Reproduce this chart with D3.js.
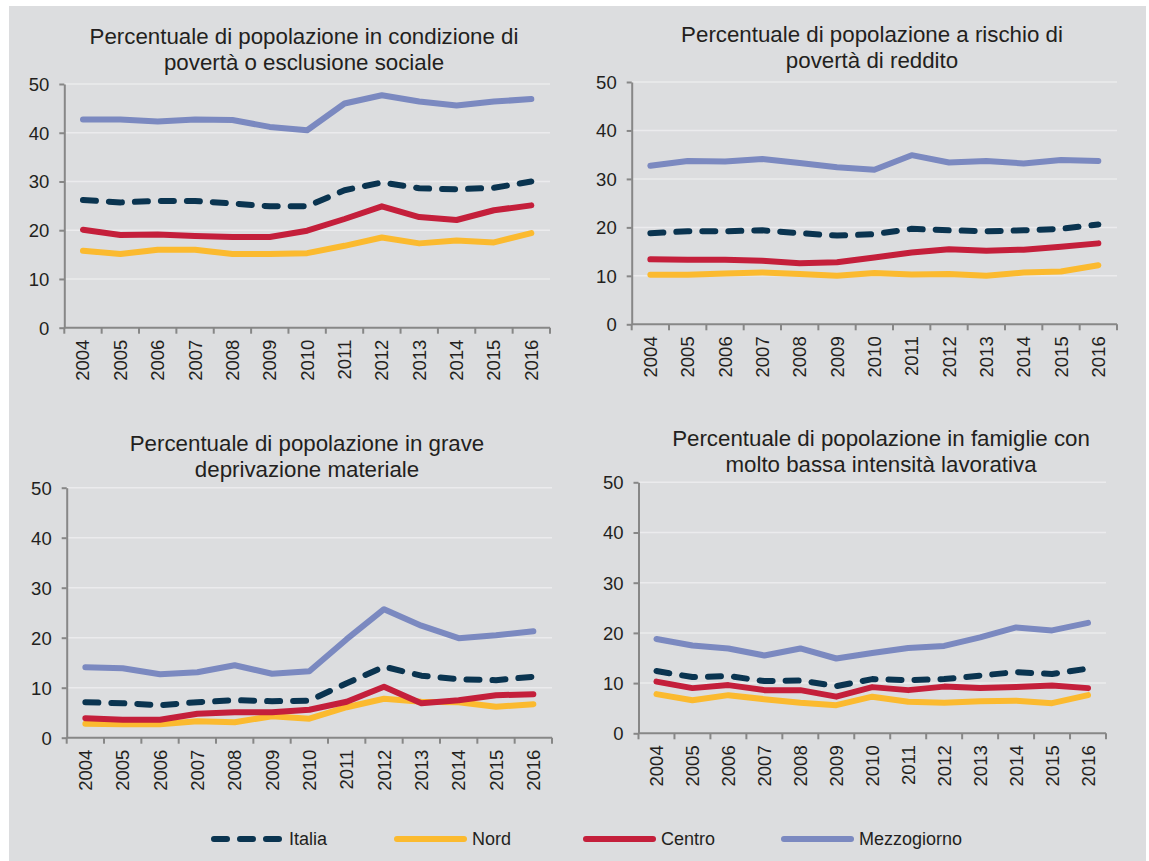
<!DOCTYPE html>
<html>
<head>
    <meta charset="utf-8">
    <title>Povertà ed esclusione sociale</title>
    <script src="https://d3js.org/d3.v7.min.js"></script>
    <style>
        body { margin: 0; background: #fff; }
        svg text { font-family: "Liberation Sans", Arial, sans-serif; fill: #231f20; }
        .grid line { stroke: #ebebed; stroke-width: 1.5px; }
        .axis path, .axis line { stroke: #878787; stroke-width: 2px; }
        .axis text { font-size: 18.5px; }
        .title { font-size: 22.3px; }
        .legend text { font-size: 18px; }
    </style>
</head>
<body>
<div id="chart"></div>
<script>
    // years and series names
    const years = ["2004","2005","2006","2007","2008","2009","2010","2011","2012","2013","2014","2015","2016"];
    const seriesNames = ["Italia", "Nord", "Centro", "Mezzogiorno"];
    const colors = ["#0a3450", "#fbba2f", "#c41f3b", "#7b89c0"];
    const yTicks = [0, 10, 20, 30, 40, 50];

    // panel 1: poverta o esclusione sociale
    const p1Italia = [26.2, 25.7, 26.0, 26.0, 25.5, 24.9, 24.9, 28.2, 29.8, 28.6, 28.4, 28.7, 30.0];
    const p1Nord   = [15.8, 15.1, 16.0, 16.0, 15.1, 15.1, 15.3, 16.8, 18.5, 17.3, 17.9, 17.5, 19.4];
    const p1Centro = [20.1, 19.0, 19.1, 18.8, 18.6, 18.6, 19.9, 22.3, 24.9, 22.7, 22.1, 24.1, 25.1];
    const p1Mezzo  = [42.7, 42.7, 42.3, 42.7, 42.6, 41.2, 40.5, 46.0, 47.7, 46.4, 45.6, 46.4, 46.9];

    // panel 2: rischio di poverta di reddito
    const p2Italia = [18.8, 19.2, 19.2, 19.4, 18.8, 18.3, 18.6, 19.7, 19.4, 19.2, 19.4, 19.7, 20.6];
    const p2Nord   = [10.2, 10.2, 10.5, 10.7, 10.4, 10.0, 10.6, 10.3, 10.4, 10.0, 10.7, 10.9, 12.2];
    const p2Centro = [13.4, 13.3, 13.3, 13.1, 12.6, 12.8, 13.8, 14.8, 15.5, 15.2, 15.4, 16.0, 16.7];
    const p2Mezzo  = [32.7, 33.7, 33.6, 34.1, 33.3, 32.4, 31.9, 34.9, 33.4, 33.7, 33.2, 33.9, 33.7];

    // panel 3: grave deprivazione materiale
    const p3Italia = [7.1, 6.9, 6.5, 7.1, 7.5, 7.3, 7.4, 10.9, 14.2, 12.4, 11.7, 11.5, 12.2];
    const p3Nord   = [2.8, 2.7, 2.7, 3.3, 3.1, 4.3, 3.8, 6.1, 7.8, 7.2, 7.1, 6.2, 6.7];
    const p3Centro = [3.9, 3.6, 3.6, 4.8, 5.1, 5.1, 5.6, 7.2, 10.2, 6.9, 7.5, 8.5, 8.7];
    const p3Mezzo  = [14.1, 13.9, 12.7, 13.1, 14.5, 12.8, 13.3, 19.7, 25.7, 22.4, 19.9, 20.5, 21.3];

    // panel 4: bassa intensita lavorativa
    const p4Italia = [12.4, 11.2, 11.4, 10.4, 10.5, 9.4, 10.8, 10.6, 10.8, 11.5, 12.2, 11.8, 12.9];
    const p4Nord   = [7.8, 6.6, 7.6, 6.8, 6.1, 5.6, 7.3, 6.3, 6.1, 6.4, 6.5, 6.0, 7.6];
    const p4Centro = [10.3, 9.0, 9.6, 8.6, 8.6, 7.3, 9.2, 8.6, 9.3, 9.0, 9.2, 9.5, 9.0];
    const p4Mezzo  = [18.8, 17.5, 16.9, 15.5, 16.9, 14.9, 16.0, 17.0, 17.4, 19.1, 21.1, 20.5, 22.0];

    const titles = [
        ["Percentuale di popolazione in condizione di", "povertà o esclusione sociale"],
        ["Percentuale di popolazione a rischio di", "povertà di reddito"],
        ["Percentuale di popolazione in grave", "deprivazione materiale"],
        ["Percentuale di popolazione in famiglie con", "molto bassa intensità lavorativa"]
    ];
    const panelData = [
        [p1Italia, p1Nord, p1Centro, p1Mezzo],
        [p2Italia, p2Nord, p2Centro, p2Mezzo],
        [p3Italia, p3Nord, p3Centro, p3Mezzo],
        [p4Italia, p4Nord, p4Centro, p4Mezzo]
    ];

    // layout of each panel (plot box + title position)
    const boxes = [
        { x0: 64.3,  x1: 550,  y0: 84,    y1: 327.7, tx: 304, ty: 44 },
        { x0: 631.7, x1: 1117, y0: 82,    y1: 324.3, tx: 872, ty: 42 },
        { x0: 66.7,  x1: 552,  y0: 487.7, y1: 737.7, tx: 307, ty: 451 },
        { x0: 638.5, x1: 1106, y0: 482.3, y1: 733.3, tx: 881, ty: 446 }
    ];

    const width = 1149, height = 861;
    const svg = d3.select("#chart").append("svg")
        .attr("width", width)
        .attr("height", height);

    svg.append("rect")
        .attr("x", 9).attr("y", 6)
        .attr("width", width - 12).attr("height", height - 6)
        .attr("fill", "#dcdddf");

    boxes.forEach((b, i) => {
        const g = svg.append("g");

        const x = d3.scaleBand().domain(years).range([b.x0, b.x1]);
        const y = d3.scaleLinear().domain([0, 50]).range([b.y1, b.y0]);

        // gridlines
        g.append("g").attr("class", "grid")
            .selectAll("line")
            .data(yTicks.slice(1))
            .join("line")
            .attr("x1", b.x0).attr("x2", b.x1)
            .attr("y1", d => y(d)).attr("y2", d => y(d));

        // y axis
        const ya = g.append("g").attr("class", "axis")
            .attr("transform", `translate(${b.x0},0)`)
            .call(d3.axisLeft(y).tickValues(yTicks).tickSize(5).tickSizeOuter(0));
        ya.selectAll("text").attr("x", -15).attr("dy", "0.35em");

        // x axis with ticks on the band edges
        const xa = g.append("g").attr("class", "axis")
            .attr("transform", `translate(0,${b.y1})`);
        xa.append("line")
            .attr("x1", b.x0).attr("x2", b.x1);
        const edges = d3.range(years.length + 1).map(k => b.x0 + k * x.step());
        xa.selectAll("line.tick")
            .data(edges)
            .join("line")
            .attr("class", "tick")
            .attr("x1", d => d).attr("x2", d => d)
            .attr("y1", 0).attr("y2", 6);
        xa.selectAll("text")
            .data(years)
            .join("text")
            .attr("transform", d => `translate(${x(d) + x.bandwidth() / 2 + 6.5},12) rotate(-90)`)
            .attr("text-anchor", "end")
            .text(d => d);

        // series lines
        const line = d3.line()
            .x((d, k) => x(years[k]) + x.bandwidth() / 2)
            .y(d => y(d));
        panelData[i].forEach((vals, s) => {
            g.append("path")
                .datum(vals)
                .attr("d", line)
                .attr("fill", "none")
                .attr("stroke", colors[s])
                .attr("stroke-width", 6)
                .attr("stroke-linejoin", "round")
                .attr("stroke-linecap", "round")
                .attr("stroke-dasharray", s === 0 ? "13,13" : null);
        });

        // title
        const t = g.append("text").attr("class", "title")
            .attr("text-anchor", "middle");
        titles[i].forEach((line, k) => {
            t.append("tspan")
                .attr("x", b.tx)
                .attr("y", b.ty + k * 26)
                .text(line);
        });
    });

    // legend
    const legendX = [211, 394, 583, 781];
    const legend = svg.append("g").attr("class", "legend");
    seriesNames.forEach((name, s) => {
        legend.append("line")
            .attr("x1", legendX[s] + 3).attr("x2", legendX[s] + 70)
            .attr("y1", 839).attr("y2", 839)
            .attr("stroke", colors[s])
            .attr("stroke-width", 6)
            .attr("stroke-linecap", "round")
            .attr("stroke-dasharray", s === 0 ? "13,13" : null);
        legend.append("text")
            .attr("x", legendX[s] + 78)
            .attr("y", 845)
            .text(name);
    });
</script>
</body>
</html>
